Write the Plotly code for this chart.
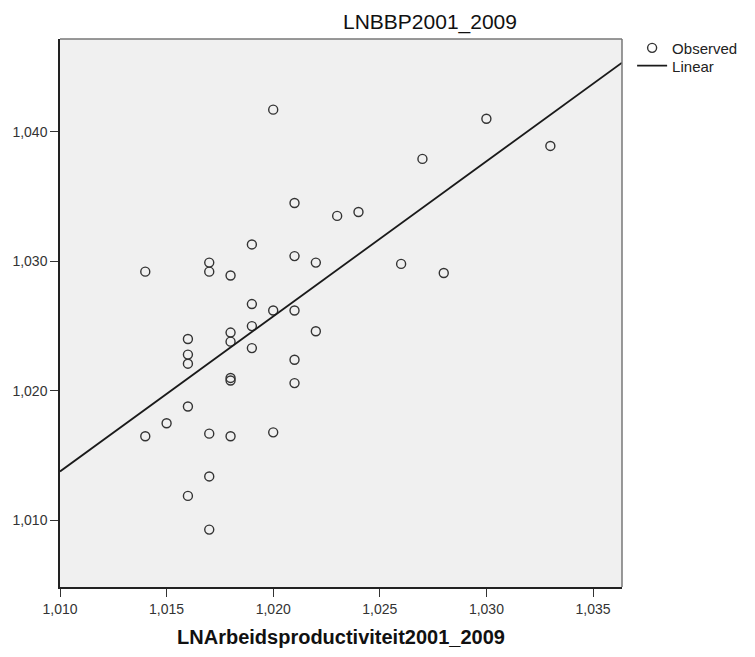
import numpy as np
import plotly.graph_objects as go

# Observed pairs (labour productivity vs. GDP, log growth 2001-2009)
arbeidsproductiviteit = [
    1.014, 1.017, 1.017, 1.018, 1.019, 1.021, 1.022, 1.019, 1.020, 1.021,
    1.019, 1.022, 1.018, 1.018, 1.019, 1.016, 1.016, 1.016, 1.021, 1.018,
    1.018, 1.021, 1.016, 1.015, 1.014, 1.017, 1.018, 1.020, 1.017, 1.016,
    1.017, 1.030, 1.027, 1.023, 1.024, 1.026, 1.028, 1.033, 1.020, 1.021,
]
bbp = [
    1.0292, 1.0299, 1.0292, 1.0289, 1.0313, 1.0304, 1.0299, 1.0267, 1.0262, 1.0262,
    1.0250, 1.0246, 1.0245, 1.0238, 1.0233, 1.0240, 1.0228, 1.0221, 1.0224, 1.0210,
    1.0208, 1.0206, 1.0188, 1.0175, 1.0165, 1.0167, 1.0165, 1.0168, 1.0134, 1.0119,
    1.0093, 1.0410, 1.0379, 1.0335, 1.0338, 1.0298, 1.0291, 1.0389, 1.0417, 1.0345,
]

x_range = [1.010, 1.03636]
y_range = [1.00487, 1.04715]
x_ticks = [1.010, 1.015, 1.020, 1.025, 1.030, 1.035]
y_ticks = [1.010, 1.020, 1.030, 1.040]

# Least-squares linear fit drawn across the full x range
slope, intercept = np.polyfit(arbeidsproductiviteit, bbp, 1)
x_fit = np.array(x_range)
y_fit = intercept + slope * x_fit

FONT = "Liberation Sans, Arial, sans-serif"

fig = go.Figure()
fig.add_trace(go.Scatter(
    x=arbeidsproductiviteit, y=bbp, mode="markers", name="Observed",
    marker=dict(symbol="circle-open", size=9, color="#333333",
                line=dict(width=1.4, color="#333333")),
    cliponaxis=False, legend="legend",
))
fig.add_trace(go.Scatter(
    x=x_fit, y=y_fit, mode="lines", name="Linear",
    line=dict(color="#1a1a1a", width=1.8), legend="legend2",
))

axis_common = dict(
    showgrid=False, zeroline=False, showline=True, linecolor="#222222",
    linewidth=1.5, ticks="outside", ticklen=8, tickwidth=1.3,
    tickcolor="#333333", tickformat=".3f",
    tickfont=dict(family=FONT, size=14, color="#333333"),
)

legend_common = dict(
    xanchor="left", yanchor="top", bgcolor="rgba(0,0,0,0)", borderwidth=0,
    font=dict(family=FONT, size=15, color="#222222"), itemwidth=30,
)

fig.update_layout(
    width=755, height=657,
    margin=dict(l=57, r=112, t=39, b=62),
    paper_bgcolor="white", plot_bgcolor="#F0F0F0",
    separators=",.",
    font=dict(family=FONT, color="#222222"),
    title=dict(text="LNBBP2001_2009", x=430 / 755, xref="container",
               xanchor="center", y=1 - 22 / 657, yanchor="middle",
               font=dict(family=FONT, size=21, color="#111111")),
    xaxis=dict(range=x_range, tickvals=x_ticks,
               title=dict(text="<b>LNArbeidsproductiviteit2001_2009</b>",
                          font=dict(family=FONT, size=20, color="#111111"),
                          standoff=14),
               **axis_common),
    yaxis=dict(range=y_range, tickvals=y_ticks, **axis_common),
    showlegend=True,
    legend=dict(x=1.018, y=1.0135, **legend_common),
    legend2=dict(x=1.018, y=0.981, **legend_common),
    shapes=[
        dict(type="line", xref="paper", yref="paper", x0=0, x1=1, y0=1, y1=1,
             line=dict(color="#777777", width=1.5)),
        dict(type="line", xref="paper", yref="paper", x0=1, x1=1, y0=0, y1=1,
             line=dict(color="#777777", width=1.5)),
    ],
)

fig.write_html("out.html")
